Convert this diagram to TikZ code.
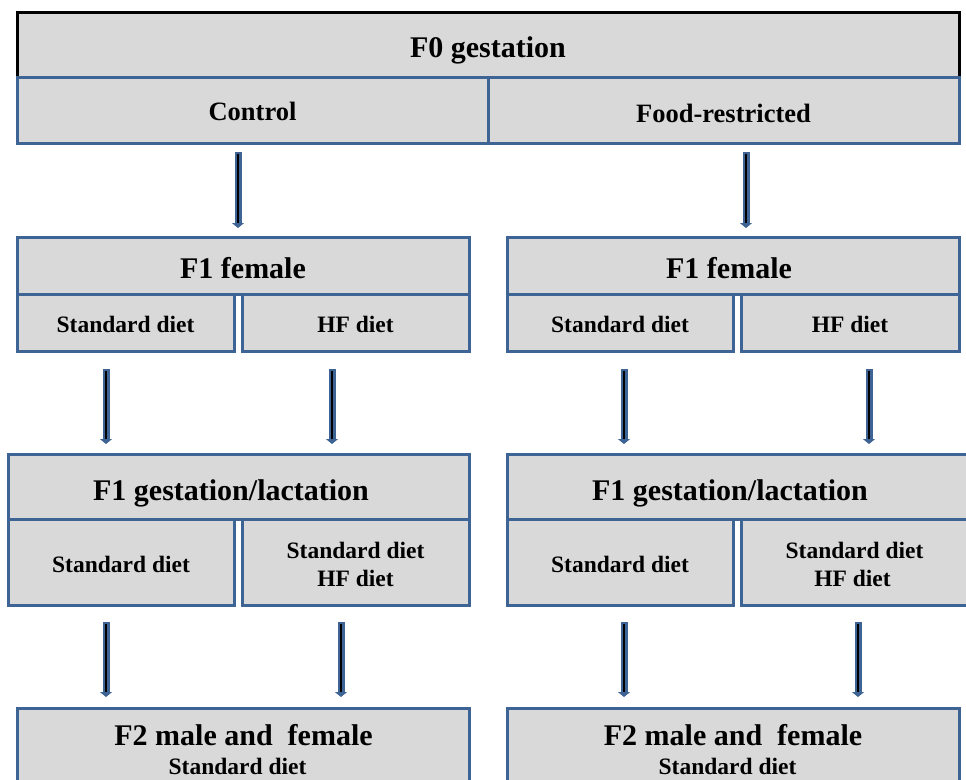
\documentclass[tikz,border=0pt]{standalone}
\usepackage{fontspec}
\setmainfont{Liberation Serif}
\usetikzlibrary{arrows.meta}
\definecolor{frameblue}{HTML}{3D6494}
\definecolor{boxgray}{HTML}{D9D9D9}
\newcommand\lowr[2]{\vphantom{#2}\smash{\raisebox{-#1pt}{#2}}}
\begin{document}
\begin{tikzpicture}[x=1pt,y=-1pt,
  box/.style={draw=frameblue, fill=boxgray, line width=3pt, rectangle, inner sep=0pt, outer sep=0pt,
    font=\bfseries\fontsize{23.5}{28}\selectfont, align=center},
  ttl/.style={font=\bfseries\fontsize{30}{34}\selectfont},
  mid/.style={font=\bfseries\fontsize{26.5}{30}\selectfont},
  sub/.style={font=\bfseries\fontsize{23.5}{28}\selectfont},
  arr/.style 2 args={line width=1.2pt, draw=black, shorten <=#1+1.5pt, shorten >=#2+5pt,
    preaction={draw=frameblue, line width=7pt, shorten <=#1, shorten >=#2,
      -{Triangle[width=12pt,length=5pt]}}}
]
\useasboundingbox (0,0) rectangle (966,779);
\fill[white] (0,0) rectangle (966,779);

% F0
\node[box, draw=black, ttl, minimum width=942pt, minimum height=65pt] (f0) at (488,44.5) {\lowr{6}{F0 gestation}};
\node[box, mid, minimum width=471pt, minimum height=66pt] (ctrl) at (252.5,110) {\lowr{1}{Control}};
\node[box, mid, minimum width=471pt, minimum height=66pt] (food) at (723.5,110) {\lowr{3}{Food-restricted}};

% F1 female
\node[box, ttl, minimum width=452pt, minimum height=57pt] (fl) at (243,265.5) {\lowr{3}{F1 female}};
\node[box, minimum width=217pt, minimum height=57pt] (sdl) at (125.5,322.5) {\lowr{2}{Standard diet}};
\node[box, minimum width=227pt, minimum height=57pt] (hfl) at (355.5,322.5) {\lowr{2}{HF diet}};
\node[box, ttl, minimum width=452pt, minimum height=57pt] (fr) at (733,265.5) {\lowr{3}{F1 female\hspace*{8pt}}};
\node[box, minimum width=226pt, minimum height=57pt] (sdr) at (620,322.5) {\lowr{2}{Standard diet}};
\node[box, minimum width=218pt, minimum height=57pt] (hfr) at (850,322.5) {\lowr{2}{HF diet}};

% F1 gestation/lactation
\node[box, ttl, minimum width=461pt, minimum height=65pt] (gl) at (238.5,486.5) {\lowr{6.5}{F1 gestation/lactation\hspace*{15pt}}};
\node[box, minimum width=226pt, minimum height=86pt] (gsl) at (121,562) {\lowr{2}{Standard diet}};
\node[box, minimum width=227pt, minimum height=86pt] (ghl) at (355.5,562) {\lowr{2}{Standard diet}\\\lowr{2}{HF diet}};
\node[box, ttl, minimum width=461pt, minimum height=65pt] (gr) at (737.5,486.5) {\lowr{6.5}{F1 gestation/lactation\hspace*{15pt}}};
\node[box, minimum width=226pt, minimum height=86pt] (gsr) at (620,562) {\lowr{2}{Standard diet}};
\node[box, minimum width=227pt, minimum height=86pt] (ghr) at (854.5,562) {\lowr{2}{Standard diet}\\\lowr{2}{HF diet\hspace*{4pt}}};

% F2
\node[box, anchor=north, minimum width=452pt, minimum height=110pt] (f2l) at (243,708) {};
\node[ttl] (f2lt) at (243.5,735) {F2 male and~ female};
\node[sub] (f2ls) at (237.5,766) {Standard diet};
\node[box, anchor=north, minimum width=452pt, minimum height=110pt] (f2r) at (733,708) {};
\node[ttl] (f2rt) at (733,735) {F2 male and~ female};
\node[sub] (f2rs) at (727.5,766) {Standard diet};

% arrow x positions
\coordinate (xa) at (238,0);
\coordinate (xb) at (746,0);
\coordinate (xc) at (106,0);
\coordinate (xd) at (332,0);
\coordinate (xe) at (624,0);
\coordinate (xf) at (869,0);
\coordinate (xg) at (341,0);
\coordinate (xh) at (858,0);

\draw[arr={9pt}{9pt}] (ctrl.south -| xa) -- (fl.north -| xa);
\draw[arr={9pt}{9pt}] (food.south -| xb) -- (fr.north -| xb);

\draw[arr={18pt}{10pt}] (sdl.south -| xc) -- (gl.north -| xc);
\draw[arr={18pt}{10pt}] (hfl.south -| xd) -- (gl.north -| xd);
\draw[arr={18pt}{10pt}] (sdr.south -| xe) -- (gr.north -| xe);
\draw[arr={18pt}{10pt}] (hfr.south -| xf) -- (gr.north -| xf);

\draw[arr={17pt}{11pt}] (gsl.south -| xc) -- (f2l.north -| xc);
\draw[arr={17pt}{11pt}] (ghl.south -| xg) -- (f2l.north -| xg);
\draw[arr={17pt}{11pt}] (gsr.south -| xe) -- (f2r.north -| xe);
\draw[arr={17pt}{11pt}] (ghr.south -| xh) -- (f2r.north -| xh);
\end{tikzpicture}
\end{document}
